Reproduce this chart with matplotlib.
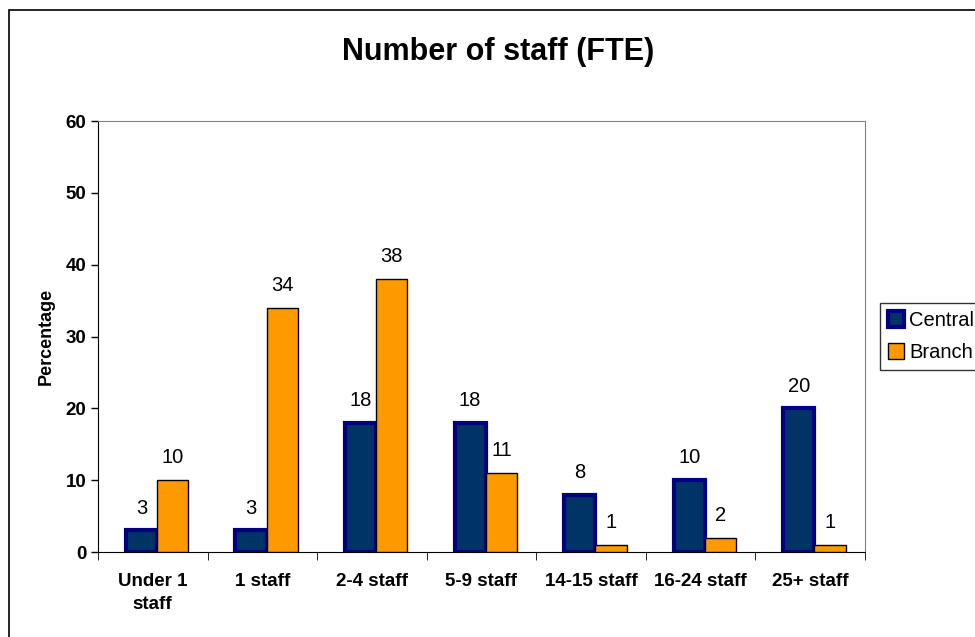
import numpy as np
import matplotlib.pyplot as plt
from matplotlib.patches import Rectangle

categories = ["Under 1\nstaff", "1 staff", "2-4 staff", "5-9 staff",
              "14-15 staff", "16-24 staff", "25+ staff"]
central = [3, 3, 18, 18, 8, 10, 20]
branch = [10, 34, 38, 11, 1, 2, 1]

plt.rcParams['font.family'] = ['Liberation Sans', 'DejaVu Sans']

fig = plt.figure(figsize=(9.75, 6.37), dpi=100)
ax = fig.add_axes([0.1005, 0.1334, 0.7865, 0.6766])

# outer chart border (runs off the right/bottom edge like the source)
fig.patches.append(Rectangle((9 / 975, -0.05), 1.2, 1 - 10 / 637 + 0.05,
                             transform=fig.transFigure, fill=False,
                             edgecolor='black', linewidth=1.2))

x = np.arange(len(categories))
w = 0.285
b1 = ax.bar(x - w / 2 + 0.04, central, w, color='#003366',
            edgecolor='#000080', linewidth=3, label='Central', zorder=3)
b2 = ax.bar(x + w / 2 + 0.04, branch, w, color='#FF9900',
            edgecolor='black', linewidth=1, label='Branch', zorder=3)

for bars, vals in ((b1, central), (b2, branch)):
    for rect, v in zip(bars, vals):
        ax.text(rect.get_x() + rect.get_width() / 2, v + 3.1, str(v),
                ha='center', va='center', fontsize=14.5)

ax.set_xlim(-0.5, len(categories) - 0.5)
ax.set_ylim(0, 60)
ax.set_yticks(range(0, 61, 10))
ax.tick_params(axis='y', direction='out', length=5, labelsize=13.5, width=1)
for lbl in ax.get_yticklabels():
    lbl.set_fontweight('bold')

ax.set_xticks(x)
ax.set_xticklabels(categories, fontweight='bold', fontsize=13.5,
                   linespacing=1.45)
ax.tick_params(axis='x', length=0, pad=15)
ax.set_xticks(np.arange(-0.5, len(categories)), minor=True)
ax.tick_params(axis='x', which='minor', direction='out', length=6)

ax.set_ylabel('Percentage', fontweight='bold', fontsize=13, labelpad=8)
fig.text(498 / 975, 1 - 52 / 637, 'Number of staff (FTE)', fontweight='bold',
         fontsize=22, ha='center', va='center')

for s in ('top', 'right'):
    ax.spines[s].set_color('#808080')
for s in ('left', 'bottom'):
    ax.spines[s].set_color('black')

leg = ax.legend(loc='center left', bbox_to_anchor=(1.02, 0.5),
                frameon=True, fancybox=False, edgecolor='black',
                fontsize=14.5, handlelength=0.8, handleheight=0.8,
                handletextpad=0.25, borderpad=0.4, labelspacing=0.65,
                borderaxespad=0)
leg.get_frame().set_linewidth(1)

fig.savefig('out.png', dpi=100)
